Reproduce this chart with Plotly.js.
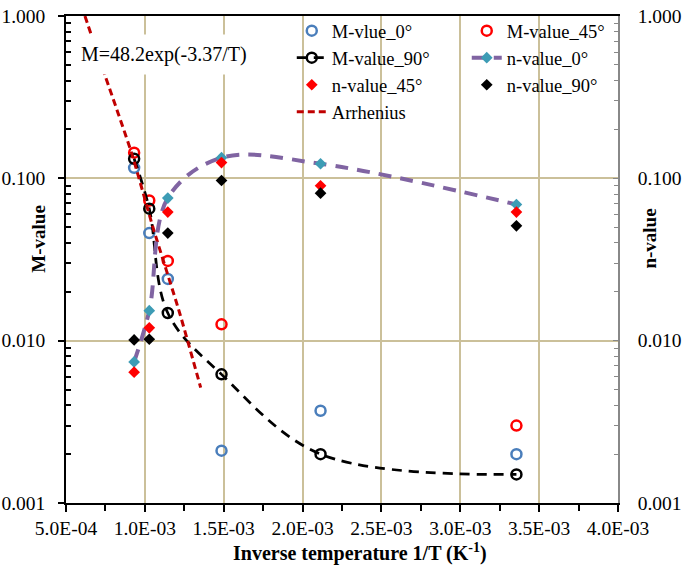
<!DOCTYPE html>
<html>
<head>
<meta charset="utf-8">
<script src="https://cdn.plot.ly/plotly-3.0.1.min.js"></script>
<style>
  body { margin: 0; background: #fff; }
  #graph { width: 685px; height: 566px; }
</style>
</head>
<body>
<div id="graph"></div>
<script>
// inverse temperature 1/T (K^-1) for 1073, 973, 873, 673, 473, 298 K
var invT = [9.32e-4, 1.028e-3, 1.1455e-3, 1.486e-3, 2.114e-3, 3.356e-3];

// M-values (left axis)
var mValue0 = [0.116, 0.046, 0.024, 0.0021, 0.0037, 0.0020];
var mValue45 = [0.144, 0.073, 0.031, 0.0126, null, 0.0030];
var mValue90 = [0.132, 0.065, 0.0148, 0.0062, 0.0020, 0.0015];

// n-values (right axis)
var nValue0 = [0.0074, 0.0153, 0.0756, 0.134, 0.123, 0.069];
var nValue45 = [0.0064, 0.0120, 0.062, 0.125, 0.090, 0.062];
var nValue90 = [0.0101, 0.0102, 0.046, 0.097, 0.081, 0.051];

// Arrhenius fit
var arrInvT = [6.2e-4, 7.47e-4, 9.16e-4, 1.053e-3, 1.222e-3, 1.354e-3];
var arrM = [1.0, 0.432, 0.143, 0.0493, 0.01466, 0.00514];

// tick labels
var xTickVals = [5e-4, 1e-3, 1.5e-3, 2e-3, 2.5e-3, 3e-3, 3.5e-3, 4e-3];
var xTickText = ['5.0E-04', '1.0E-03', '1.5E-03', '2.0E-03', '2.5E-03', '3.0E-03', '3.5E-03', '4.0E-03'];
var yTickVals = [0.001, 0.01, 0.1, 1];
var yTickText = ['0.001', '0.010', '0.100', '1.000'];
var yMinorVals = [0.002, 0.003, 0.004, 0.005, 0.006, 0.007, 0.008, 0.009,
                  0.02, 0.03, 0.04, 0.05, 0.06, 0.07, 0.08, 0.09,
                  0.2, 0.3, 0.4, 0.5, 0.6, 0.7, 0.8, 0.9];

var serif = 'Liberation Serif, Times New Roman, serif';
var gridCol = '#cbc09a';

function openCircles(name, y, color, legend) {
    return {
        x: invT, y: y, name: name, type: 'scatter', mode: 'markers',
        legend: legend,
        marker: { symbol: 'circle-open', size: 10, color: color, line: { width: 2.5, color: color } }
    };
}

function diamonds(name, y, color, legend) {
    return {
        x: invT, y: y, name: name, type: 'scatter', mode: 'markers',
        yaxis: 'y2', legend: legend,
        marker: { symbol: 'diamond', size: 9, color: color }
    };
}

var traces = [
    openCircles('M-vlue_0°', mValue0, '#4a7ebb', 'legend'),
    openCircles('M-value_45°', mValue45, '#ff0000', 'legend2'),
    {
        x: invT, y: mValue90, name: 'M-value_90°', type: 'scatter', mode: 'lines+markers',
        legend: 'legend',
        line: { color: '#000', width: 2.75, dash: '10px,7px', shape: 'spline', smoothing: 1 },
        marker: { symbol: 'circle-open', size: 10, color: '#000', line: { width: 2.5, color: '#000' } }
    },
    {
        x: invT, y: nValue0, name: 'n-value_0°', type: 'scatter', mode: 'lines+markers',
        yaxis: 'y2', legend: 'legend2',
        line: { color: '#8064a2', width: 4, dash: '13px,9px', shape: 'spline', smoothing: 1 },
        marker: { symbol: 'diamond', size: 9, color: '#3d9cb5' }
    },
    diamonds('n-value_45°', nValue45, '#ff0000', 'legend'),
    diamonds('n-value_90°', nValue90, '#000000', 'legend2'),
    {
        x: arrInvT, y: arrM, name: 'Arrhenius', type: 'scatter', mode: 'lines',
        legend: 'legend',
        line: { color: '#c00000', width: 3, dash: '7px,4px', shape: 'spline', smoothing: 0.6 }
    }
];

var logAxis = {
    type: 'log', range: [-3, 0], tickmode: 'array', tickvals: yTickVals, ticktext: yTickText,
    showline: true, zeroline: false, tickfont: { size: 19.5 }, ticklabeloverflow: 'allow'
};

var layout = {
    width: 685, height: 566,
    margin: { l: 66, r: 67, t: 12, b: 63 },
    paper_bgcolor: '#fff', plot_bgcolor: '#fff',
    font: { family: serif, size: 20, color: '#000' },
    showlegend: true,
    xaxis: {
        range: [5e-4, 4e-3], tickmode: 'array', tickvals: xTickVals, ticktext: xTickText,
        tickfont: { size: 19.5 },
        showgrid: true, gridcolor: gridCol, gridwidth: 1.5, zeroline: false,
        showline: true, linecolor: '#000', linewidth: 1.5, mirror: true,
        ticks: 'outside', ticklen: 7, tickcolor: '#000', tickwidth: 1.5,
        ticklabelstandoff: 0,
        minor: { tickmode: 'linear', tick0: 5e-4, dtick: 2.5e-4, ticks: 'outside', ticklen: 6, tickcolor: '#000', showgrid: false }
    },
    yaxis: Object.assign({}, logAxis, {
        linecolor: '#000', linewidth: 1.5,
        showgrid: true, gridcolor: gridCol, gridwidth: 1.5,
        ticks: 'outside', ticklen: 6, tickcolor: '#000', tickwidth: 1.5,
        ticklabelstandoff: 9,
        minor: { tickmode: 'array', tickvals: yMinorVals, ticks: 'inside', ticklen: 5, tickcolor: '#000', showgrid: false }
    }),
    yaxis2: Object.assign({}, logAxis, {
        overlaying: 'y', side: 'right', showgrid: false,
        linecolor: '#888', linewidth: 1.5,
        ticks: 'inside', ticklen: 5, tickcolor: '#888',
        ticklabelstandoff: 14,
        minor: { tickmode: 'array', tickvals: yMinorVals, ticks: 'inside', ticklen: 4, tickcolor: '#888', showgrid: false }
    }),
    legend: {
        x: 0.409, y: 1.008, xanchor: 'left', yanchor: 'top',
        bgcolor: 'rgba(0,0,0,0)', font: { size: 18.5 }
    },
    legend2: {
        x: 0.726, y: 1.008, xanchor: 'left', yanchor: 'top',
        bgcolor: 'rgba(0,0,0,0)', font: { size: 18.5 }
    },
    shapes: [{
        // white box behind the legend hides the grid there
        type: 'rect', xref: 'paper', yref: 'paper', layer: 'between',
        x0: 0.393, x1: 0.978, y0: 0.775, y1: 0.996,
        fillcolor: '#fff', line: { width: 0 }
    }],
    annotations: [
        {
            text: 'M=48.2exp(-3.37/T)', xref: 'paper', yref: 'paper',
            x: 0.011, y: 0.921, xanchor: 'left', yanchor: 'middle',
            showarrow: false, bgcolor: '#fff', borderpad: 8, font: { size: 20 }
        },
        {
            text: '<b>Inverse temperature 1/T (K<sup>-1</sup>)</b>', xref: 'paper', yref: 'paper',
            x: 0.533, y: -0.102, xanchor: 'center', yanchor: 'middle',
            showarrow: false, font: { size: 20 }
        },
        {
            text: '<b>M-value</b>', xref: 'paper', yref: 'paper',
            x: -0.074, y: 0.542, textangle: -90, showarrow: false, font: { size: 19 }
        },
        {
            text: '<b>n-value</b>', xref: 'paper', yref: 'paper',
            x: 1.078, y: 0.542, textangle: -90, showarrow: false, font: { size: 19 }
        }
    ]
};

Plotly.newPlot('graph', traces, layout, { displayModeBar: false });
</script>
</body>
</html>
